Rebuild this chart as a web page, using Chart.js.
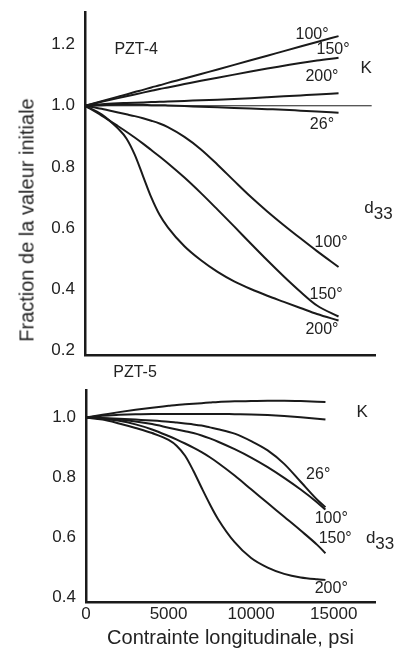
<!DOCTYPE html>
<html>
<head>
<meta charset="utf-8">
<script src="https://cdn.jsdelivr.net/npm/chart.js@4.4.1/dist/chart.umd.min.js"></script>
<style>
  html, body { margin: 0; padding: 0; background: #fff; }
  #wrap { position: relative; width: 402px; height: 651px; overflow: hidden; font-family: "Liberation Sans", Arial, sans-serif; }
  #chartTop { position: absolute; left: 0; top: 0; }
  #chartBot { position: absolute; left: 0; top: 362px; }
  #ytitle { position: absolute; left: 27px; top: 220px; transform: translate(-50%, -50%) rotate(-90deg);
            white-space: nowrap; font-size: 20px; color: #222; }
</style>
</head>
<body>
<div id="wrap">
  <canvas id="chartTop" width="402" height="362"></canvas>
  <canvas id="chartBot" width="402" height="289"></canvas>
  <div id="ytitle">Fraction de la valeur initiale</div>
</div>
<script>
// contrainte (psi)
const X_MAX = 17500;
const X_TICKS = [0, 5000, 10000, 15000];

// PZT-4
const Y_TICKS_TOP = [0.2, 0.4, 0.6, 0.8, 1.0, 1.2];
const X_TOP = [0, 1000, 2000, 2500, 3000, 3500, 4000, 4500, 5000, 6000, 7000, 8000, 9000, 10000, 11000, 12000, 13000, 14000, 15300];
const K4_100 = [1.0, 1.015, 1.030, 1.037, 1.045, 1.052, 1.060, 1.067, 1.075, 1.089, 1.104, 1.119, 1.134, 1.149, 1.164, 1.179, 1.194, 1.209, 1.228];
const K4_150 = [1.0, 1.013, 1.025, 1.031, 1.037, 1.043, 1.049, 1.055, 1.060, 1.071, 1.082, 1.092, 1.102, 1.112, 1.122, 1.131, 1.140, 1.148, 1.157];
const K4_200 = [1.0, 1.005, 1.008, 1.009, 1.010, 1.011, 1.012, 1.013, 1.014, 1.016, 1.018, 1.020, 1.022, 1.025, 1.028, 1.031, 1.034, 1.037, 1.041];
const K4_26 = [1.0, 1.002, 1.003, 1.003, 1.003, 1.003, 1.002, 1.002, 1.001, 0.999, 0.997, 0.995, 0.993, 0.991, 0.989, 0.987, 0.984, 0.981, 0.977];
const D4_100 = [1.0, 0.990, 0.978, 0.972, 0.966, 0.959, 0.951, 0.942, 0.930, 0.898, 0.857, 0.807, 0.754, 0.702, 0.654, 0.609, 0.566, 0.524, 0.472];
const D4_150 = [1.0, 0.968, 0.933, 0.915, 0.896, 0.876, 0.855, 0.834, 0.812, 0.765, 0.714, 0.660, 0.605, 0.549, 0.494, 0.441, 0.391, 0.346, 0.310];
const D4_200 = [1.0, 0.972, 0.925, 0.893, 0.840, 0.770, 0.700, 0.643, 0.602, 0.540, 0.494, 0.456, 0.425, 0.400, 0.378, 0.358, 0.338, 0.318, 0.297];
const REF_X = [0, 17300];
const REF_Y = [1.0, 1.0];

// PZT-5
const Y_TICKS_BOT = [0.4, 0.6, 0.8, 1.0];
const X_BOT = [0, 1000, 2000, 3000, 4000, 5000, 5500, 6000, 6500, 7000, 7500, 8000, 9000, 10000, 11000, 12000, 13000, 14000, 14500];
const K5_HI = [1.0, 1.009, 1.018, 1.026, 1.033, 1.039, 1.042, 1.044, 1.046, 1.048, 1.050, 1.052, 1.054, 1.055, 1.056, 1.056, 1.055, 1.053, 1.052];
const K5_LO = [1.0, 1.006, 1.009, 1.011, 1.012, 1.012, 1.012, 1.012, 1.012, 1.012, 1.012, 1.012, 1.011, 1.010, 1.008, 1.005, 1.001, 0.996, 0.993];
const D5_26 = [1.0, 0.998, 0.996, 0.993, 0.990, 0.986, 0.983, 0.980, 0.977, 0.973, 0.967, 0.961, 0.946, 0.921, 0.890, 0.845, 0.785, 0.725, 0.700];
const D5_100 = [1.0, 0.997, 0.993, 0.987, 0.978, 0.966, 0.960, 0.954, 0.948, 0.940, 0.930, 0.919, 0.894, 0.866, 0.834, 0.798, 0.759, 0.716, 0.692];
const D5_150 = [1.0, 0.996, 0.989, 0.977, 0.960, 0.938, 0.926, 0.913, 0.899, 0.884, 0.867, 0.848, 0.806, 0.760, 0.714, 0.668, 0.622, 0.574, 0.546];
const D5_200 = [1.0, 0.993, 0.980, 0.965, 0.948, 0.925, 0.905, 0.872, 0.822, 0.765, 0.710, 0.660, 0.583, 0.530, 0.498, 0.477, 0.465, 0.459, 0.457];

const FONT = '"Liberation Sans", Arial, sans-serif';
const INK = "#1a1a1a";
const TXT = "#222";

function pts(xs, ys) {
  return xs.map((x, i) => ({ x, y: ys[i] }));
}

function curve(xs, ys, width) {
  return {
    data: pts(xs, ys),
    borderColor: INK,
    borderWidth: width || 2,
    pointRadius: 0,
    fill: false,
    cubicInterpolationMode: "monotone"
  };
}

// textes posés sur les courbes (coordonnées en unités du graphe)
function labelPlugin(items) {
  return {
    id: "curveLabels",
    afterDatasetsDraw(chart) {
      const { ctx, scales: { x, y } } = chart;
      ctx.save();
      ctx.fillStyle = TXT;
      ctx.textBaseline = "middle";
      items.forEach(it => {
        ctx.font = `${it.size || 16}px ${FONT}`;
        ctx.textAlign = it.align || "center";
        const px = x.getPixelForValue(it.x);
        const py = y.getPixelForValue(it.y);
        ctx.fillText(it.text, px, py);
        if (it.sub) {
          const w = ctx.measureText(it.text).width;
          ctx.textAlign = "left";
          ctx.fillText(it.sub, px + w, py + 6);
        }
      });
      ctx.restore();
    }
  };
}

function yScale(min, max, ticks, width) {
  return {
    type: "linear",
    min, max,
    grid: { display: false, drawTicks: false },
    border: { display: true, color: INK, width: 2.5 },
    ticks: { color: TXT, font: { family: FONT, size: 17 }, padding: 10, callback: v => v.toFixed(1) },
    afterBuildTicks: s => { s.ticks = ticks.map(v => ({ value: v })); },
    afterFit: s => { s.width = width; s.paddingTop = 0; s.paddingBottom = 0; }
  };
}

const topLabels = [
  { text: "PZT-4", x: 3090, y: 1.183 },
  { text: "100°", x: 13700, y: 1.232 },
  { text: "150°", x: 14970, y: 1.183 },
  { text: "200°", x: 14300, y: 1.097 },
  { text: "K", x: 16970, y: 1.124, size: 17 },
  { text: "26°", x: 14300, y: 0.937 },
  { text: "d", sub: "33", x: 16850, y: 0.665, align: "left", size: 17 },
  { text: "100°", x: 14850, y: 0.551 },
  { text: "150°", x: 14550, y: 0.381 },
  { text: "200°", x: 14300, y: 0.266 }
];

const botLabels = [
  { text: "PZT-5", x: 2970, y: 1.149 },
  { text: "K", x: 16730, y: 1.018, size: 17 },
  { text: "26°", x: 14060, y: 0.808 },
  { text: "100°", x: 14850, y: 0.661 },
  { text: "150°", x: 15090, y: 0.594 },
  { text: "d", sub: "33", x: 16950, y: 0.597, align: "left", size: 17 },
  { text: "200°", x: 14850, y: 0.428 }
];

new Chart(document.getElementById("chartTop"), {
  type: "line",
  data: {
    datasets: [
      curve(REF_X, REF_Y, 1),
      curve(X_TOP, K4_100),
      curve(X_TOP, K4_150),
      curve(X_TOP, K4_200),
      curve(X_TOP, K4_26),
      curve(X_TOP, D4_100),
      curve(X_TOP, D4_150),
      curve(X_TOP, D4_200)
    ]
  },
  options: {
    responsive: false,
    animation: false,
    devicePixelRatio: 1,
    layout: { padding: { left: 0, right: 27, top: 12, bottom: 0 } },
    plugins: { legend: { display: false }, tooltip: { enabled: false } },
    scales: {
      x: {
        type: "linear",
        min: 0, max: X_MAX,
        grid: { display: false, drawTicks: false },
        border: { display: true, color: INK, width: 2.5 },
        ticks: { display: false },
        afterFit: s => { s.height = 7; s.paddingLeft = 0; s.paddingRight = 0; }
      },
      y: yScale(0.184, 1.307, Y_TICKS_TOP, 85)
    }
  },
  plugins: [labelPlugin(topLabels)]
});

new Chart(document.getElementById("chartBot"), {
  type: "line",
  data: {
    datasets: [
      curve(X_BOT, K5_HI),
      curve(X_BOT, K5_LO),
      curve(X_BOT, D5_26),
      curve(X_BOT, D5_100),
      curve(X_BOT, D5_150),
      curve(X_BOT, D5_200)
    ]
  },
  options: {
    responsive: false,
    animation: false,
    devicePixelRatio: 1,
    layout: { padding: { left: 0, right: 27, top: 28, bottom: 0 } },
    plugins: { legend: { display: false }, tooltip: { enabled: false } },
    scales: {
      x: {
        type: "linear",
        min: 0, max: X_MAX,
        grid: { display: false, drawTicks: false },
        border: { display: true, color: INK, width: 2.5 },
        ticks: { color: TXT, font: { family: FONT, size: 17 }, padding: 2, maxRotation: 0, autoSkip: false,
                 callback: v => String(v) },
        afterBuildTicks: s => { s.ticks = X_TICKS.map(v => ({ value: v })); },
        title: { display: true, text: "Contrainte longitudinale, psi", color: TXT,
                 font: { family: FONT, size: 20 }, padding: { top: 0, bottom: 1 } },
        afterFit: s => { s.height = 49; s.paddingLeft = 0; s.paddingRight = 0; }
      },
      y: yScale(0.383, 1.092, Y_TICKS_BOT, 86)
    }
  },
  plugins: [labelPlugin(botLabels)]
});
</script>
</body>
</html>
